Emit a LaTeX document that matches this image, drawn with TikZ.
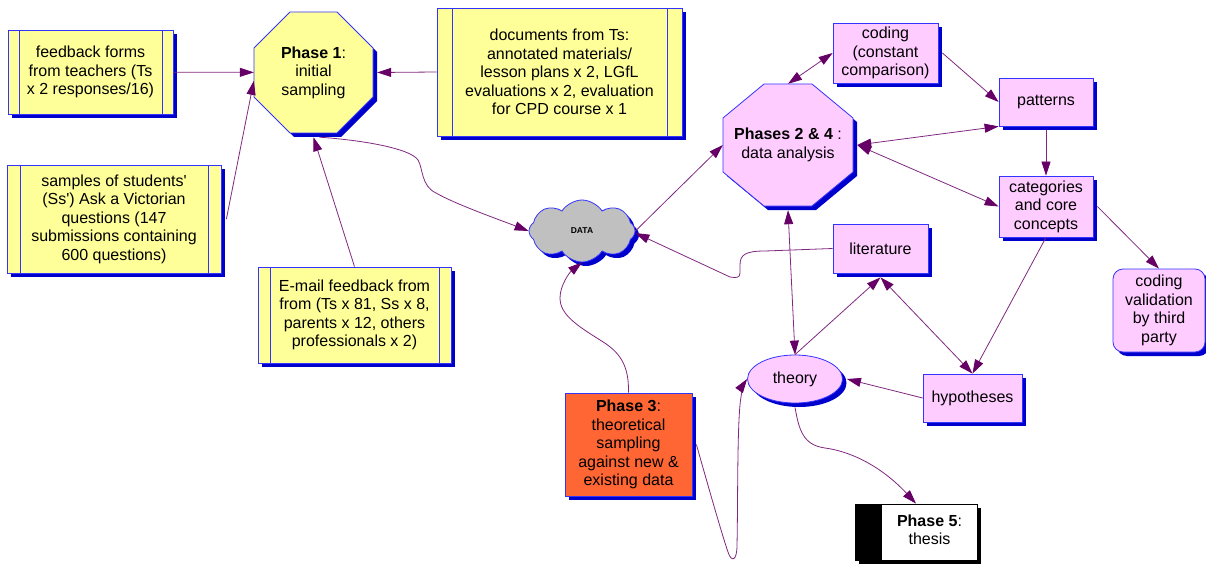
\documentclass[tikz,border=0pt]{standalone}
\usepackage{fontspec}
\setmainfont{Liberation Sans}
\usetikzlibrary{shapes.geometric,shapes.symbols,shadows,arrows.meta}
\definecolor{yel}{RGB}{255,255,153}
\definecolor{pnk}{RGB}{255,204,255}
\definecolor{org}{RGB}{255,102,51}
\definecolor{gry}{RGB}{192,192,192}
\definecolor{bord}{RGB}{51,51,255}
\definecolor{shad}{RGB}{0,0,204}
\definecolor{linec}{RGB}{128,40,128}
\definecolor{tipc}{RGB}{102,0,102}
\begin{document}
\begin{tikzpicture}[x=1pt,y=-1pt,
  every node/.style={font=\fontsize{16}{18.5}\selectfont, align=center, inner sep=0pt},
  shadowed/.style={drop shadow={shadow xshift=4pt,shadow yshift=-4pt,fill=shad,opacity=1}},
  blackshadowed/.style={drop shadow={shadow xshift=4pt,shadow yshift=-4pt,fill=black,opacity=1}},
  ybox/.style={rectangle, draw=bord, line width=0.8pt, fill=yel, shadowed,
    path picture={\draw[bord, line width=0.8pt]
      ([xshift=#1]path picture bounding box.north west) -- ([xshift=#1]path picture bounding box.south west)
      ([xshift=-#1]path picture bounding box.north east) -- ([xshift=-#1]path picture bounding box.south east);}},
  ybox/.default=12pt,
  pbox/.style={rectangle, draw=bord, line width=0.8pt, fill=pnk, shadowed},
  octshape/.style={draw=bord, line width=0.8pt, shadowed},
  octtext/.style={rectangle, inner sep=0pt},
  conn/.style={draw=linec, line width=0.8pt, -{Triangle[length=14pt,width=9pt,color=tipc]}},
  conn2/.style={draw=linec, line width=0.8pt, {Triangle[length=14pt,width=9pt,color=tipc]}-{Triangle[length=14pt,width=9pt,color=tipc]}},
]
\useasboundingbox (0,0) rectangle (1206,564);
\fill[white] (0,0) rectangle (1206,564);

% octagons
\filldraw[octshape, fill=yel, shift={(313.5,72.5)}]
  (-23.5,-60.5) -- (23.5,-60.5) -- (59.5,-24.5) -- (59.5,24.5) -- (23.5,60.5) -- (-23.5,60.5) -- (-59.5,24.5) -- (-59.5,-24.5) -- cycle;
\node[octtext, minimum width=119pt, minimum height=121pt] (p1) at (313.5,72.5) {\textbf{Phase 1}:\\initial\\sampling};

\filldraw[octshape, fill=pnk, shift={(788,145)}]
  (-24,-61) -- (24,-61) -- (65,-27) -- (65,27) -- (24,61) -- (-24,61) -- (-65,27) -- (-65,-27) -- cycle;
\node[octtext, minimum width=130pt, minimum height=122pt] (p24) at (788,145) {\textbf{Phases 2 \& 4} :\\data analysis};

% yellow boxes
\node[ybox=11pt, minimum width=165pt, minimum height=84pt] (fb) at (90.5,72) {feedback forms\\from teachers (Ts\\x 2 responses/16)};
\node[ybox=13pt, minimum width=214pt, minimum height=108pt] (smp) at (114,219) {samples of students\textquotesingle\\(Ss\textquotesingle) Ask a Victorian\\questions (147\\submissions containing\\600 questions)};
\node[ybox=15pt, minimum width=245pt, minimum height=128pt] (doc) at (559.5,72) {documents from Ts:\\annotated materials/\\lesson plans x 2, LGfL\\evaluations x 2, evaluation\\for CPD course x 1};
\node[ybox=12pt, minimum width=193pt, minimum height=96pt] (eml) at (354.5,315) {E-mail feedback from\\from (Ts x 81, Ss x 8,\\parents x 12, others\\professionals x 2)};

% data cloud
\node[cloud, cloud puffs=8, cloud puff arc=115, aspect=1.7, draw=bord, line width=0.8pt, fill=gry, shadowed, minimum width=106pt, minimum height=62pt, font=\bfseries\fontsize{8.5}{10}\selectfont] (data) at (582,231) {DATA};

% phase 3
\node[rectangle, draw=bord, line width=0.8pt, fill=org, shadowed, minimum width=127pt, minimum height=103pt] (ph3) at (628.5,444.5) {\textbf{Phase 3}:\\theoretical\\sampling\\against new \&\\existing data};

% pink boxes
\node[pbox, minimum width=105pt, minimum height=60pt] (cod) at (885.5,53) {coding\\(constant\\comparison)};
\node[pbox, minimum width=94pt, minimum height=48pt] (pat) at (1046,102) {patterns};
\node[pbox, minimum width=94pt, minimum height=61pt] (cat) at (1046,206.5) {categories\\and core\\concepts};
\node[pbox, minimum width=95pt, minimum height=49pt] (lit) at (880.5,248.5) {literature};
\node[pbox, rounded corners=10pt, minimum width=92pt, minimum height=83pt] (val) at (1159,310.5) {coding\\validation\\by third\\party};
\node[ellipse, draw=bord, line width=0.8pt, fill=pnk, shadowed, minimum width=95pt, minimum height=48pt] (the) at (795,379) {theory};
\node[pbox, minimum width=99pt, minimum height=48pt] (hyp) at (972.5,398) {hypotheses};

% phase 5
\node[rectangle, draw=black, line width=0.8pt, fill=white, blackshadowed, minimum width=122pt, minimum height=56pt,
  path picture={\fill[black] (path picture bounding box.north west) rectangle ([xshift=27pt]path picture bounding box.south west);}]
  (ph5) at (916,532) {\begin{tabular}{@{\hspace{27pt}}c@{}}\textbf{Phase 5}:\\thesis\end{tabular}};

% connectors
\draw[conn] (fb) -- (p1);
\draw[conn] ([xshift=5pt]smp.east) -- (p1.188);
\draw[conn] (doc.west) -- ([xshift=4pt]p1.east);
\draw[conn] (eml.north) -- ([yshift=-4pt]p1.south);
\draw[conn] ([xshift=6pt,yshift=-4pt]p1.south) .. controls (360,140) and (410,148) .. (418,160)
  .. controls (423,168) and (421,186) .. (436,193) .. controls (455,204) and (500,220) .. (data.west);
\draw[conn] (data.east) -- (p24.west);
\draw[conn] (lit.west) -- (765,251) .. controls (745,251) and (740,255) .. (740,265) -- (740,273)
  .. controls (740,278) and (736,278) .. (730,277) -- ([yshift=-2pt]data.east);
\draw[conn] (ph3.north) .. controls (629,365) and (620,352) .. (600,340)
  .. controls (578,326) and (560,315) .. (560,298) .. controls (560,285) and (570,272) .. (data.south);
\draw[conn] ([xshift=4pt]ph3.east) .. controls (705,475) and (722,535) .. (728,552)
  .. controls (731,562) and (737,562) .. (737,545) .. controls (738,500) and (737,420) .. (741,397)
  .. controls (742,388) and (745,382) .. (the.west);
\draw[conn] ([yshift=-4pt]the.south) .. controls (799,430) and (803,445) .. (825,448)
  .. controls (855,452) and (885,470) .. (ph5.north);
\draw[conn] (hyp.west) -- ([xshift=4pt]the.east);
\draw[conn] (the.north) -- ([yshift=-4pt]lit.south);
\draw[conn2] ([yshift=-4pt]lit.south) -- (hyp.north);
\draw[conn] (cat.south) -- (hyp.north);
\draw[conn2] ([yshift=-4pt]p24.south) -- (the.north);
\draw[conn2] (p24.north) -- (cod.west);
\draw[conn] ([xshift=4pt]cod.east) -- (pat.west);
\draw[conn2] (pat.south west) -- ([xshift=4pt]p24.east);
\draw[conn2] ([xshift=4pt]p24.east) -- (cat.west);
\draw[conn] ([yshift=-4pt]pat.south) -- (cat.north);
\draw[conn] ([xshift=4pt]cat.east) -- (val.north);
\end{tikzpicture}
\end{document}
